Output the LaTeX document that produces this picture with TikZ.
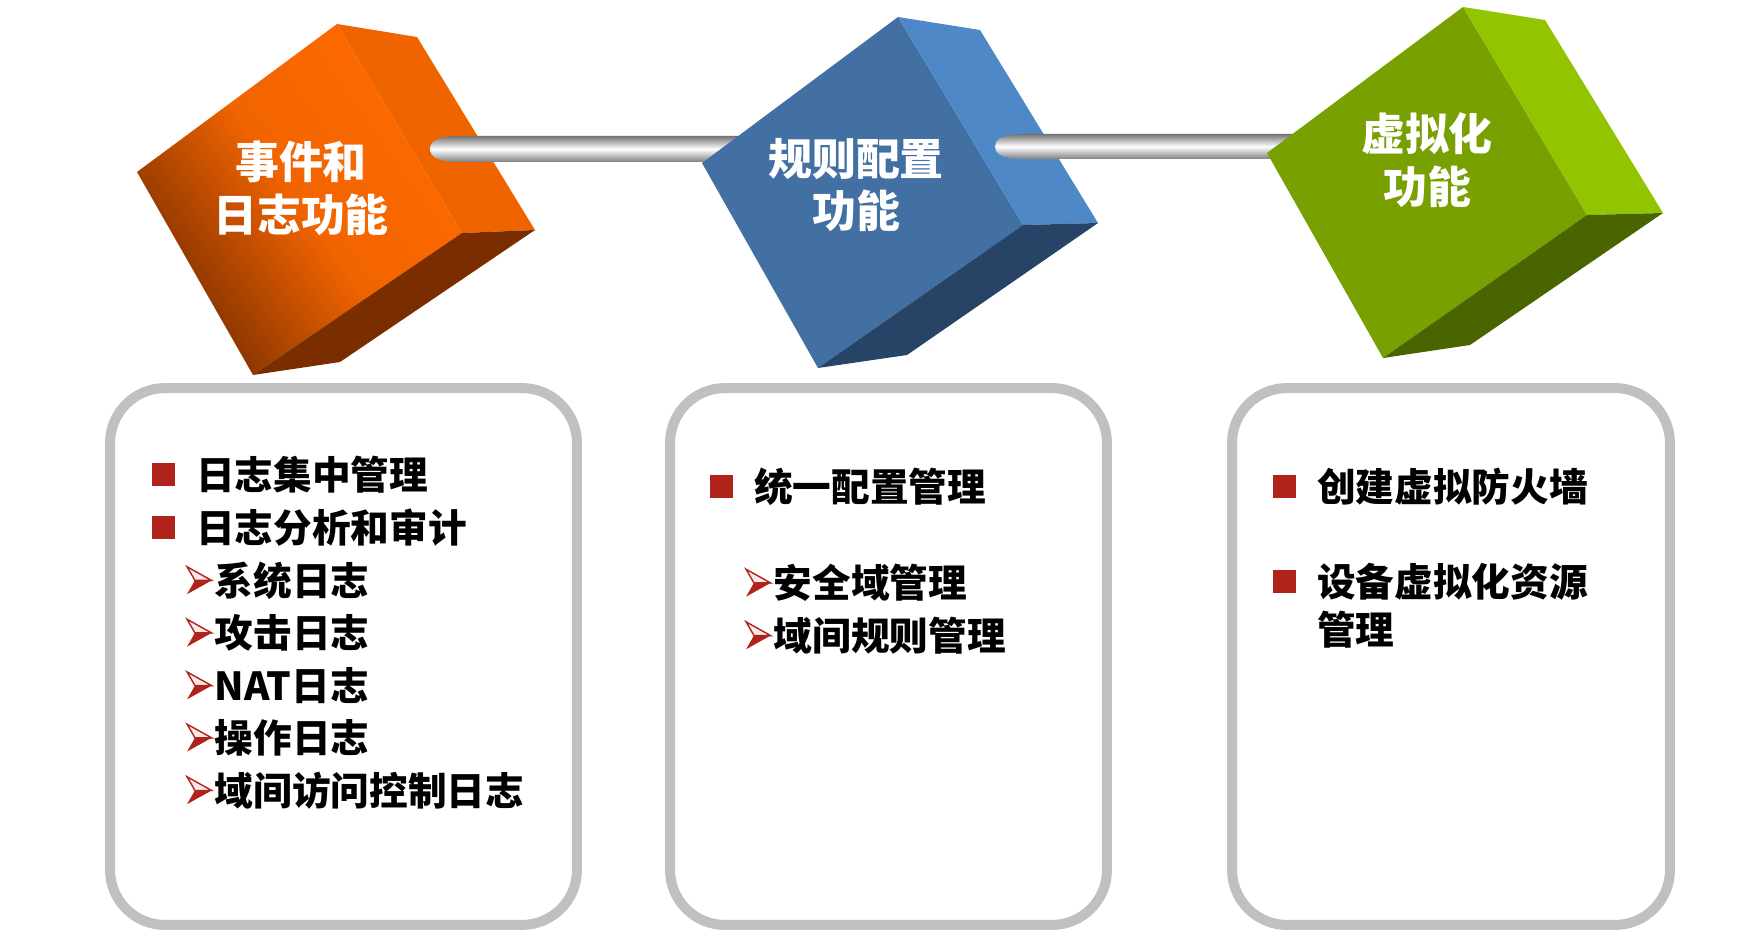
\documentclass[tikz,border=0pt]{standalone}
\usepackage{fontspec}
\usetikzlibrary{positioning}
\newfontfamily\cjk{Noto Sans CJK SC}
\definecolor{orangefront}{HTML}{FF6A00}
\definecolor{orangeright}{HTML}{F06400}
\definecolor{orangedark}{HTML}{7A2E00}
\definecolor{bluefront}{HTML}{4370A3}
\definecolor{blueright}{HTML}{4E88C7}
\definecolor{bluedark}{HTML}{274466}
\definecolor{greenfront}{HTML}{77A000}
\definecolor{greenright}{HTML}{92C400}
\definecolor{greendark}{HTML}{4A6400}
\definecolor{panelgray}{HTML}{C0C0C0}
\definecolor{bulletred}{HTML}{B0231B}
\newcommand{\sqbullet}{\textcolor{bulletred}{\rule[2pt]{13pt}{13pt}}\hspace{12pt}}
\newcommand{\arrowbullet}{\tikz[baseline=0pt]{\filldraw[bulletred, fill=bulletred!10, line width=0.8pt, line join=miter] (0pt,16.2pt) -- (14pt,8.4pt) -- (4.5pt,8.4pt) -- cycle; \fill[bulletred] (4.5pt,8.4pt) -- (14pt,8.4pt) -- (0pt,0.6pt) -- cycle;}\hspace{1.5pt}}

\begin{document}
\begin{tikzpicture}[x=0.02cm, y=-0.02cm, node distance=1.05cm, on grid,
    panel/.style={draw=panelgray, line width=0.2cm, rounded corners=1.1cm, minimum height=10.74cm},
    cubetitle/.style={text=white, align=center, font=\cjk\bfseries\fontsize{25}{30}\selectfont},
    item/.style={anchor=west, inner sep=0pt, font=\cjk\bfseries\fontsize{22}{26}\selectfont},
    rod/.style={top color=black!55, bottom color=black!50, middle color=white}]
        \useasboundingbox (0,0) rectangle (1762,936);

        \shade[top color=orangefront, bottom color=orangedark, middle color=orangefront!90!orangedark, shading angle=-55] (337,24) -- (137,172) -- (253,375) -- (462,233) -- cycle;
        \fill[orangeright] (337,24) -- (417,37) -- (535,230) -- (462,233) -- cycle;
        \fill[orangedark] (462,233) -- (535,230) -- (340,362) -- (253,375) -- cycle;
        \shade[rod] (460,136) -- (745,136) -- (745,162) -- (460,162) .. controls (436,162) and (430,156) .. (430,149) .. controls (430,142) and (436,136) .. (460,136);

        \fill[bluefront] (898,17) -- (702,163) -- (818,368) -- (1023,225) -- cycle;
        \fill[blueright] (898,17) -- (980,30) -- (1098,223) -- (1023,225) -- cycle;
        \fill[bluedark] (1023,225) -- (1098,223) -- (907,355) -- (818,368) -- cycle;
        \shade[rod] (1025,134) -- (1300,134) -- (1300,159) -- (1025,159) .. controls (1001,159) and (995,153) .. (995,146.5) .. controls (995,140) and (1001,134) .. (1025,134);

        \fill[greenfront] (1463,7) -- (1267,153) -- (1383,358) -- (1587,215) -- cycle;
        \fill[greenright] (1463,7) -- (1545,20) -- (1663,213) -- (1587,215) -- cycle;
        \fill[greendark] (1587,215) -- (1663,213) -- (1470,345) -- (1383,358) -- cycle;

        \node[cubetitle] (c1) at (301,188) {事件和\\日志功能};
        \node[cubetitle] (c2) at (856,185) {规则配置\\功能};
        \node[cubetitle] (c3) at (1427,160) {虚拟化\\功能};

        \node[panel, minimum width=9.34cm] (p1) at (343.5,656.5) {};
        \node[panel, minimum width=8.74cm] (p2) at (888.5,656.5) {};
        \node[panel, minimum width=8.76cm] (p3) at (1451,656.5) {};

        \node[item] (l1) at (152,475) {\sqbullet 日志集中管理};
        \node[item, below=of l1.west, anchor=west] (l2) {\sqbullet 日志分析和审计};
        \node[item, below right=1.06cm and 0.68cm of l2.west, anchor=west] (l3) {\arrowbullet 系统日志};
        \node[item, below=of l3.west, anchor=west] (l4) {\arrowbullet 攻击日志};
        \node[item, below=of l4.west, anchor=west] (l5) {\arrowbullet NAT日志};
        \node[item, below=of l5.west, anchor=west] (l6) {\arrowbullet 操作日志};
        \node[item, below=of l6.west, anchor=west] (l7) {\arrowbullet 域间访问控制日志};

        \node[item] (m1) at (710,486.5) {\sqbullet 统一配置管理};
        \node[item, below right=1.93cm and 0.7cm of m1.west, anchor=west] (m2) {\arrowbullet 安全域管理};
        \node[item, below=of m2.west, anchor=west] (m3) {\arrowbullet 域间规则管理};

        \node[item] (n1) at (1273,486.5) {\sqbullet 创建虚拟防火墙};
        \node[item, below=1.9cm of n1.west, anchor=west] (n2) {\sqbullet 设备虚拟化资源};
        \node[item, below=0.97cm of n2.west, anchor=west] (n3) {\phantom{\sqbullet}管理};
    \end{tikzpicture}
\end{document}
